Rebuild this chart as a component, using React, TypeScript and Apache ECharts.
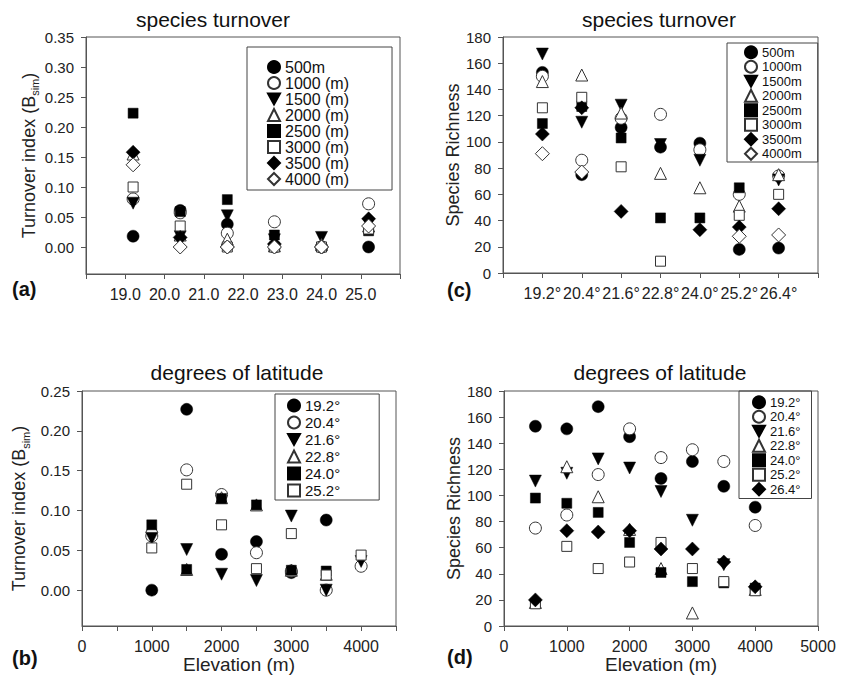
import React, { useEffect, useRef } from 'react';
import * as echarts from 'echarts';

const FONT = "'Liberation Sans', Arial, Helvetica, sans-serif";
const AX = '#555';

// ---------- Panel (a): turnover vs latitude, one series per elevation ----------
const latA = [19.2, 20.4, 21.6, 22.8, 24.0, 25.2];
const namesA = ['500m', '1000 (m)', '1500 (m)', '2000 (m)', '2500 (m)', '3000 (m)', '3500 (m)', '4000 (m)'];
const a500 = [0.018, 0.061, 0.038, 0.0, 0.0, 0.0];
const a1000 = [0.08, 0.057, 0.023, 0.042, 0.0, 0.072];
const a1500 = [0.073, 0.017, 0.052, 0.012, 0.016, 0.038];
const a2000 = [0.155, 0.02, 0.013, 0.002, 0.004, 0.035];
const a2500 = [0.223, 0.059, 0.079, 0.02, 0.0, 0.027];
const a3000 = [0.1, 0.035, 0.0, 0.0, 0.0, 0.03];
const a3500 = [0.158, 0.016, 0.0, 0.005, 0.0, 0.047];
const a4000 = [0.137, 0.0, 0.0, 0.0, 0.0, 0.035];
const seriesA = [a500, a1000, a1500, a2000, a2500, a3000, a3500, a4000];
const tickXA = [18, 19, 20, 21, 22, 23, 24, 25, 26];
const labelXA = [19, 20, 21, 22, 23, 24, 25];
const tickYA = [0, 0.05, 0.1, 0.15, 0.2, 0.25, 0.3, 0.35];

// ---------- Panel (c): richness vs latitude, one series per elevation ----------
const latC = [19.2, 20.4, 21.6, 22.8, 24.0, 25.2, 26.4];
const namesC = ['500m', '1000m', '1500m', '2000m', '2500m', '3000m', '3500m', '4000m'];
const c500 = [153, 75, 111, 96, 99, 18, 19];
const c1000 = [150, 86, 118, 121, 94, 60, 74];
const c1500 = [167, 115, 128, 98, 86, null, 71];
const c2000 = [146, 151, 122, 76, 65, 51, 75];
const c2500 = [114, 127, 103, 42, 42, 65, null];
const c3000 = [126, 134, 81, 9, null, 44, 60];
const c3500 = [106, 126, 47, null, 33, 35, 49];
const c4000 = [91, 77, null, null, null, 28, 29];
const seriesC = [c500, c1000, c1500, c2000, c2500, c3000, c3500, c4000];
const tickXC = [18.0, 19.2, 20.4, 21.6, 22.8, 24.0, 25.2, 26.4, 27.6];
const labelXC = [19.2, 20.4, 21.6, 22.8, 24.0, 25.2, 26.4];
const tickYC = [0, 20, 40, 60, 80, 100, 120, 140, 160, 180];

// ---------- Panel (b): turnover vs elevation, one series per latitude ----------
const elevB = [1000, 1500, 2000, 2500, 3000, 3500, 4000];
const namesB = ['19.2°', '20.4°', '21.6°', '22.8°', '24.0°', '25.2°'];
const b192 = [0.0, 0.227, 0.045, 0.061, 0.022, 0.088, null];
const b204 = [0.068, 0.151, 0.12, 0.047, 0.024, 0.0, 0.03];
const b216 = [0.065, 0.051, 0.02, 0.012, 0.093, 0.0, 0.036];
const b228 = [0.08, 0.026, 0.116, 0.107, 0.025, 0.02, null];
const b240 = [0.082, 0.026, 0.115, 0.107, 0.025, 0.024, null];
const b252 = [0.053, 0.133, 0.082, 0.027, 0.071, 0.019, 0.044];
const seriesB = [b192, b204, b216, b228, b240, b252];
const tickXB = [0, 500, 1000, 1500, 2000, 2500, 3000, 3500, 4000, 4500];
const labelXB = [0, 1000, 2000, 3000, 4000];
const tickYB = [0, 0.05, 0.1, 0.15, 0.2, 0.25];

// ---------- Panel (d): richness vs elevation, one series per latitude ----------
const elevD = [500, 1000, 1500, 2000, 2500, 3000, 3500, 4000];
const namesD = ['19.2°', '20.4°', '21.6°', '22.8°', '24.0°', '25.2°', '26.4°'];
const d192 = [153, 151, 168, 145, 113, 126, 107, 91];
const d204 = [75, 85, 116, 151, 129, 135, 126, 77];
const d216 = [111, 117, 128, 121, 103, 81, 47, null];
const d228 = [18, 122, 99, 74, 44, 10, null, 28];
const d240 = [98, 94, 87, 64, 41, 34, 33, 29];
const d252 = [17, 61, 44, 49, 64, 44, 34, 27];
const d264 = [20, 73, 72, 73, 59, 59, 49, 30];
const seriesD = [d192, d204, d216, d228, d240, d252, d264];
const tickXD = [0, 1000, 2000, 3000, 4000, 5000];
const tickYD = [0, 20, 40, 60, 80, 100, 120, 140, 160, 180];

const DOWN_TRI = 'path://M0,0L20,0L10,18Z';

// marker styles, in legend order
const MARKERS = [
  { symbol: 'circle', filled: true, size: 12 },
  { symbol: 'circle', filled: false, size: 12 },
  { symbol: DOWN_TRI, filled: true, size: 12 },
  { symbol: 'triangle', filled: false, size: 12 },
  { symbol: 'rect', filled: true, size: 10 },
  { symbol: 'rect', filled: false, size: 10 },
  { symbol: 'diamond', filled: true, size: 14 },
  { symbol: 'diamond', filled: false, size: 14 },
];

function makeSeries(names: string[], xs: number[], ys: (number | null)[][], gi: number) {
  return names.map((name, k) => {
    const m = MARKERS[k];
    const data: number[][] = [];
    xs.forEach((x, i) => {
      const v = ys[k][i];
      if (v !== null && v !== undefined) data.push([x, v]);
    });
    return {
      type: 'scatter',
      name,
      xAxisIndex: gi,
      yAxisIndex: gi,
      symbol: m.symbol,
      symbolSize: m.size,
      silent: true,
      itemStyle: m.filled
        ? { color: '#000', borderColor: '#000', borderWidth: 0.5, opacity: 1 }
        : { color: '#fff', borderColor: '#333', borderWidth: 1, opacity: 1 },
      emphasis: { disabled: true },
      data,
    };
  });
}

function xAxis(gi: number, min: number, max: number, ticks: number[], labels: number[], fmt: (v: number) => string, name?: string) {
  return {
    gridIndex: gi,
    type: 'value',
    min,
    max,
    name: name || '',
    nameLocation: 'middle',
    nameGap: 28,
    nameTextStyle: { fontSize: 19, color: '#222', fontFamily: FONT },
    axisLine: { show: true, onZero: false, lineStyle: { color: AX, width: 1 } },
    axisTick: { show: true, inside: false, length: 5, customValues: ticks, lineStyle: { color: AX } },
    axisLabel: { customValues: labels, formatter: fmt, fontSize: 16, margin: 12, color: '#222', fontFamily: FONT },
    splitLine: { show: false },
  };
}

function yAxis(gi: number, min: number, max: number, ticks: number[], fmt: (v: number) => string, name: string, gap: number, rich: boolean) {
  return {
    gridIndex: gi,
    type: 'value',
    min,
    max,
    name,
    nameLocation: 'middle',
    nameGap: gap,
    nameTextStyle: rich
      ? {
          fontSize: 18,
          color: '#222',
          fontFamily: FONT,
          lineHeight: 24,
          rich: { sub: { fontSize: 11, verticalAlign: 'bottom', lineHeight: 11, color: '#222', fontFamily: FONT } },
        }
      : { fontSize: 18, color: '#222', fontFamily: FONT },
    axisLine: { show: true, onZero: false, lineStyle: { color: AX, width: 1 } },
    axisTick: { show: true, inside: false, length: 5, customValues: ticks, lineStyle: { color: AX } },
    axisLabel: { customValues: ticks, formatter: fmt, fontSize: 15, margin: 12, color: '#222', fontFamily: FONT },
    splitLine: { show: false },
  };
}

function legend(names: string[], left: number, top: number, fontSize: number, lineHeight: number, padding: number[]) {
  return {
    orient: 'vertical',
    left,
    top,
    data: names,
    itemWidth: 12,
    itemHeight: 12,
    itemGap: 0,
    padding,
    borderColor: '#444',
    borderWidth: 1,
    selectedMode: false,
    textStyle: { fontSize, lineHeight, color: '#111', fontFamily: FONT },
  };
}

function text(str: string, x: number, y: number, size: number, bold: boolean, align: string) {
  return {
    type: 'text',
    x,
    y,
    silent: true,
    style: {
      text: str,
      fill: '#111',
      font: `${bold ? 'bold ' : ''}${size}px ${FONT}`,
      align,
      verticalAlign: 'middle',
    },
  };
}

export default function App() {
  const ref = useRef<HTMLDivElement>(null);
  useEffect(() => {
    if (!ref.current) return;
    const chart = echarts.init(ref.current, undefined, { renderer: 'svg' });
    const gridBase = { show: true, borderColor: AX, borderWidth: 1, containLabel: false };
    const option = {
      animation: false,
      backgroundColor: '#fff',
      grid: [
        { ...gridBase, left: 86, top: 37, width: 314, height: 237 },
        { ...gridBase, left: 503, top: 37, width: 315, height: 236 },
        { ...gridBase, left: 82, top: 391, width: 314, height: 235 },
        { ...gridBase, left: 504, top: 391, width: 314, height: 235 },
      ],
      xAxis: [
        xAxis(0, 18, 26, tickXA, labelXA, (v: number) => v.toFixed(1)),
        xAxis(1, 18, 27.6, tickXC, labelXC, (v: number) => v.toFixed(1) + '°'),
        xAxis(2, 0, 4500, tickXB, labelXB, (v: number) => String(Math.round(v)), 'Elevation (m)'),
        xAxis(3, 0, 5000, tickXD, tickXD, (v: number) => String(Math.round(v)), 'Elevation (m)'),
      ],
      yAxis: [
        yAxis(0, -0.045, 0.35, tickYA, (v: number) => v.toFixed(2), 'Turnover index (B{sub|sim})', 43, true),
        yAxis(1, 0, 180, tickYC, (v: number) => String(Math.round(v)), 'Species Richness', 39, false),
        yAxis(2, -0.045, 0.25, tickYB, (v: number) => v.toFixed(2), 'Turnover index (B{sub|sim})', 51, true),
        yAxis(3, 0, 180, tickYD, (v: number) => String(Math.round(v)), 'Species Richness', 40, false),
      ],
      legend: [
        legend(namesA, 247, 47, 16, 16, [12, 43, 3, 20]),
        legend(namesC, 727, 43, 13, 14.5, [2, 16, 1, 17]),
        legend(namesB, 275, 394, 15, 17, [3, 39, 1, 12]),
        legend(namesD, 739, 391, 13, 14.5, [4, 11, 2, 13]),
      ],
      series: [
        ...makeSeries(namesA, latA, seriesA, 0),
        ...makeSeries(namesC, latC, seriesC, 1),
        ...makeSeries(namesB, elevB, seriesB, 2),
        ...makeSeries(namesD, elevD, seriesD, 3),
      ],
      graphic: [
        text('species turnover', 213, 19, 21, false, 'center'),
        text('species turnover', 659, 19, 21, false, 'center'),
        text('degrees of latitude', 237, 372, 21, false, 'center'),
        text('degrees of latitude', 660, 372, 21, false, 'center'),
        text('(a)', 12, 289, 20, true, 'left'),
        text('(c)', 447, 290, 20, true, 'left'),
        text('(b)', 12, 658, 20, true, 'left'),
        text('(d)', 447, 657, 20, true, 'left'),
      ],
    };
    chart.setOption(option as any);
    return () => chart.dispose();
  }, []);
  return (
    <div
      ref={ref}
      style={{ position: 'fixed', left: 0, top: 0, width: 845, height: 679, background: '#fff' }}
    />
  );
}
